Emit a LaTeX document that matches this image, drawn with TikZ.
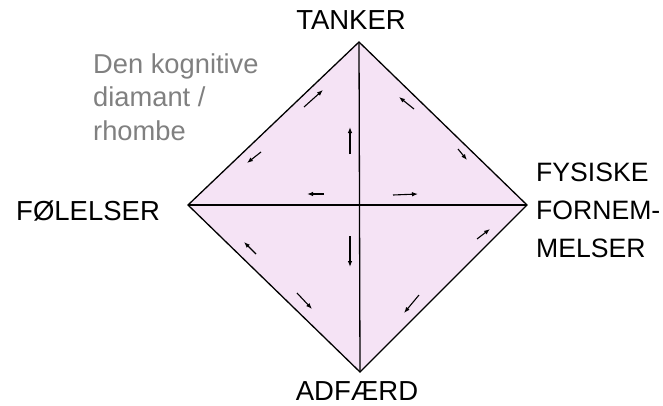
\documentclass[tikz,border=0pt]{standalone}
\usepackage{fontspec}
\setmainfont{Liberation Sans}
\usetikzlibrary{arrows.meta}
\definecolor{fillpink}{RGB}{245,227,245}
\definecolor{labgray}{RGB}{128,128,128}
\tikzset{
  edge/.style={draw=black, line width=1.3pt},
  arr/.style={draw=black, line width=1.1pt, -{Latex[length=6pt,width=4.5pt]}},
  lab/.style={inner sep=0pt, font=\fontsize{27.5}{38}\selectfont, text=black},
  rlab/.style={inner sep=0pt, font=\fontsize{26.6}{38}\selectfont, text=black},
  glab/.style={inner sep=0pt, font=\fontsize{27.3}{33.5}\selectfont, text=labgray, align=left},
}
\begin{document}
\begin{tikzpicture}[x=1pt,y=-1pt]
\useasboundingbox (0,0) rectangle (663,405);
% vertices
\coordinate (T) at (359,42);
\coordinate (L) at (188,205);
\coordinate (R) at (527,205);
\coordinate (B) at (360,372);
\fill[fillpink] (T) -- (R) -- (B) -- (L) -- cycle;
\draw[edge, line join=miter] (T) -- (R) -- (B) -- (L) -- cycle;
\draw[edge] (T) -- (B);
\draw[edge] (L) -- (R);
% arrows
\coordinate (a1s) at (304,107); \coordinate (a1e) at (323,90);
\coordinate (a2s) at (261,152); \coordinate (a2e) at (247,163);
\coordinate (a3s) at (350,154); \coordinate (a3e) at (350,127);
\coordinate (a4s) at (324,194); \coordinate (a4e) at (307,194);
\coordinate (a5s) at (393,195); \coordinate (a5e) at (418,194);
\coordinate (a6s) at (414,109); \coordinate (a6e) at (399,97);
\coordinate (a7s) at (458,149); \coordinate (a7e) at (467,160);
\coordinate (a8s) at (256,254); \coordinate (a8e) at (244,242);
\coordinate (a9s) at (297,293); \coordinate (a9e) at (312,309);
\coordinate (a10s) at (350,236); \coordinate (a10e) at (350,267);
\coordinate (a11s) at (477,239); \coordinate (a11e) at (490,229);
\coordinate (a12s) at (419,295); \coordinate (a12e) at (404,313);
\foreach \i in {1,...,12}{\draw[arr] (a\i s) -- (a\i e);}
% labels
\node[lab, anchor=base] (tanker) at (351,29) {TANKER};
\node[lab, anchor=base west] (folelser) at (16,220) {FØLELSER};
\node[lab, anchor=base] (adfaerd) at (357,400) {ADFÆRD};
\node[rlab, anchor=base west, align=left] (fysiske) at (536,257) {FYSISKE\\FORNEM-\\MELSER};
\node[glab, anchor=base west] (title) at (93,140) {Den kognitive\\diamant /\\rhombe};
\end{tikzpicture}
\end{document}
